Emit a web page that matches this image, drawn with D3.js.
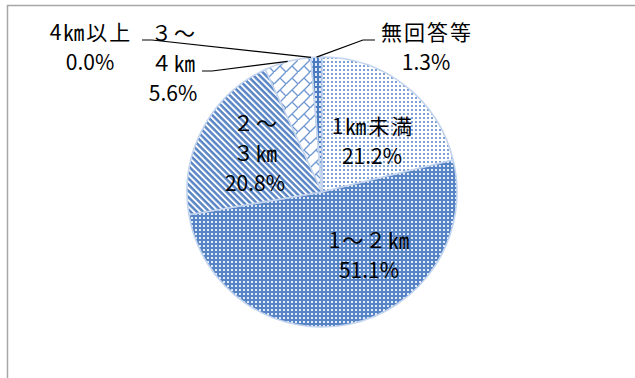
<!DOCTYPE html>
<html><head><meta charset="utf-8">
<script src="https://cdn.jsdelivr.net/npm/d3@7"></script>
<style>
html,body{margin:0;padding:0;background:#fff;}
svg{display:block;}
text{font-family:"Noto Sans CJK JP","Noto Sans",sans-serif;fill:#000;}
</style></head>
<body>
<script>
// ---- data ----
const categories = ["1㎞未満", "1～２㎞", "２～３㎞", "３～４㎞", "4㎞以上", "無回答等"];
const labelLines = [["1㎞未満"], ["1～２㎞"], ["２～", "３㎞"], ["３～", "４㎞"], ["4㎞以上"], ["無回答等"]];
const values = [21.2, 51.1, 20.8, 5.6, 0.0, 1.3];
const percentLabels = ["21.2%", "51.1%", "20.8%", "5.6%", "0.0%", "1.3%"];

// ---- layout (kept separate from data) ----
const W = 635, H = 378;
const cx = 322, cy = 192, R = 135;
const fills = ["url(#pDotsLight)", "url(#pDotsDark)", "url(#pStripes)", "url(#pBrick)", "url(#pCheck)", "url(#pCheck)"];
// label block centers relative to pie center, and leader elbows (relative) for outside labels
const labelPos = [[50, -51], [47, 63], [-67, -38.5], [-149, -128.5], [-232, -144.5], [104, -145]];
const leaders = [null, null, null,
  [[-110, -121], [-120, -121]],
  [[-170, -152], [-180, -152]],
  [[41, -152], [53, -152]]];
const lineH = 30;
const ls = 2;

const svg = d3.select("body").append("svg").attr("width", W).attr("height", H);
const defs = svg.append("defs");

// pattern: light dots (1km未満)
let p = defs.append("pattern").attr("id", "pDotsLight").attr("patternUnits", "userSpaceOnUse").attr("width", 4).attr("height", 4);
p.append("rect").attr("width", 4).attr("height", 4).attr("fill", "#fff");
p.append("rect").attr("x", 1).attr("y", 1).attr("width", 2).attr("height", 2).attr("fill", "#7aa0d6");
// pattern: dark with white dots (1～2km)
p = defs.append("pattern").attr("id", "pDotsDark").attr("patternUnits", "userSpaceOnUse").attr("width", 4).attr("height", 4);
p.append("rect").attr("width", 4).attr("height", 4).attr("fill", "#5784c5");
p.append("rect").attr("x", 1).attr("y", 1).attr("width", 2).attr("height", 2).attr("fill", "#e4ecf8");
// stripes (2～3km)
p = defs.append("pattern").attr("id", "pStripes").attr("patternUnits", "userSpaceOnUse").attr("width", 4.4).attr("height", 4.4).attr("patternTransform", "rotate(45)");
p.append("rect").attr("width", 4.4).attr("height", 4.4).attr("fill", "#fff");
p.append("rect").attr("width", 4.4).attr("height", 2.5).attr("fill", "#5a86c6");
// diagonal brick (3～4km)
p = defs.append("pattern").attr("id", "pBrick").attr("patternUnits", "userSpaceOnUse").attr("width", 12).attr("height", 12);
p.append("rect").attr("width", 12).attr("height", 12).attr("fill", "#fff");
p.append("path").attr("d", "M-1,13L13,-1M6,6L12,12").attr("stroke", "#7199d2").attr("stroke-width", 1.4).attr("fill", "none");
// checker (無回答等)
p = defs.append("pattern").attr("id", "pCheck").attr("patternUnits", "userSpaceOnUse").attr("width", 4).attr("height", 5);
p.append("rect").attr("width", 4).attr("height", 5).attr("fill", "#4a7bc0");
p.append("rect").attr("x", 1).attr("y", 1).attr("width", 2).attr("height", 3).attr("fill", "#dfe8f6");

// frame
svg.append("rect").attr("x", 7.5).attr("y", 5.5).attr("width", 700).attr("height", 420)
  .attr("fill", "none").attr("stroke", "#a6a6a6").attr("stroke-width", 1.5);

const data = categories.map((c, i) => ({ c, v: values[i], i }));
const pie = d3.pie().sort(null).value(d => d.v);
const arcs = pie(data);
const arc = d3.arc().innerRadius(0).outerRadius(R);
const edgeArc = d3.arc().innerRadius(R).outerRadius(R);

const g = svg.append("g").attr("transform", `translate(${cx},${cy})`);
g.selectAll("path.slice").data(arcs).join("path").attr("class", "slice")
  .attr("d", arc).attr("fill", d => fills[d.data.i])
  .attr("stroke", "#c3d4ee").attr("stroke-width", 1.6).attr("stroke-linejoin", "round");

// leaders
arcs.forEach(a => {
  const L = leaders[a.data.i];
  if (!L) return;
  const start = edgeArc.centroid(a);
  g.append("path").attr("d", d3.line()([start, ...L]))
    .attr("fill", "none").attr("stroke", "#000").attr("stroke-width", 1.2);
});

// labels
arcs.forEach(a => {
  const i = a.data.i;
  const names = labelLines[i];
  const lines = [...names, percentLabels[i]];
  const [lx, ly] = labelPos[i];
  const top = ly - (lines.length - 1) * lineH / 2;
  const t = g.append("text").attr("text-anchor", "middle").attr("font-size", 21);
  lines.forEach((s, k) => {
    const isName = k < names.length;
    t.append("tspan")
      .attr("x", isName ? lx + ls / 2 : lx)
      .attr("y", top + k * lineH + 7.5)
      .attr("letter-spacing", isName ? ls : 0)
      .text(s);
  });
});
</script>
</body></html>
